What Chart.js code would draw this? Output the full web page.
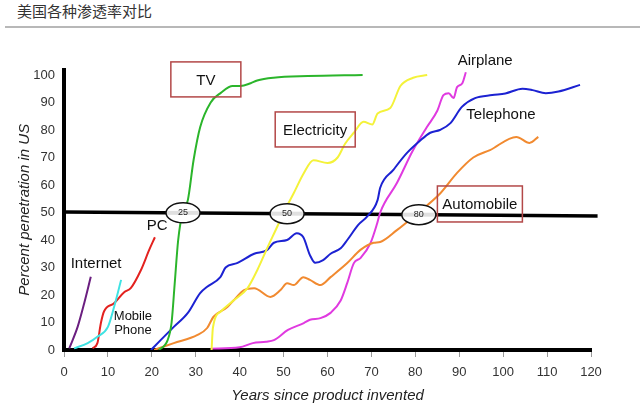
<!DOCTYPE html>
<html lang="zh">
<head>
<meta charset="utf-8">
<script src="https://cdn.jsdelivr.net/npm/chart.js"></script>
<style>
  body { margin: 0; background: #fff; }
  .wrap { position: relative; width: 640px; height: 412px; overflow: hidden; }
  .title { position: absolute; left: 17px; top: 2px; font: 15px/18px "Noto Sans CJK SC", sans-serif; color: #333; }
  .rule { position: absolute; left: 5px; right: 0; top: 26px; border-top: 2px solid #b8b8b8; }
  canvas { position: absolute; left: 0; top: 0; }
</style>
</head>
<body>
<div class="wrap">
  <div class="title">美国各种渗透率对比</div>
  <div class="rule"></div>
  <canvas id="penetration" width="640" height="412"></canvas>
</div>

<script>
// years since invention / percent penetration
const internetYears = [1.2, 3.1, 4.6, 6.1];
const internetValues = [0.6, 8.4, 17, 26.6];

const mobileYears = [2.3, 5.4, 7.6, 10, 11.4, 13];
const mobileValues = [0.6, 2.5, 4.8, 8.4, 15.6, 25.5];

const pcYears = [6.5, 7.6, 8.4, 9.1, 11.4, 13.7, 15.2, 17.5, 19.4, 20.7];
const pcValues = [0.6, 2.5, 9.8, 14, 17, 21, 22.5, 29, 36.4, 41];

const tvYears = [21.6, 23.6, 24.5, 25.2, 26, 27, 28.2, 29.5, 31, 33.4, 35.7, 38.4, 40.2, 42.5, 44, 47.7, 55.5, 68];
const tvValues = [0, 3.6, 10, 24, 40, 50, 54.5, 69, 81, 90, 93.5, 96, 96, 97, 98, 99, 99.6, 100];

const electricityYears = [33.6, 33.9, 35.7, 38.6, 41.8, 44, 46.4, 48.6, 50, 52.3, 54.5, 56.8, 60, 62.3, 64, 66, 68.2, 70.2, 71.4, 74.3, 76.6, 79.5, 82.7];
const electricityValues = [0, 8, 14, 18, 22.5, 29, 37.5, 45, 50, 57, 64, 69, 68, 70, 75, 79, 83, 82, 86, 88, 96, 99, 100];

const telephoneYears = [19.8, 22, 25, 28.2, 31, 32.6, 35.6, 36.8, 39.4, 43.3, 46.3, 47.8, 50.8, 53, 54.5, 56, 57.2, 59, 60.7, 63, 64.5, 67, 69, 71.4, 72, 75, 78, 81, 83.4, 85.6, 88, 90.6, 93.6, 97.5, 100.5, 104.4, 106.7, 109.7, 112.6, 117.5];
const telephoneValues = [0, 3.6, 8.4, 13.5, 20.7, 23, 26.5, 30, 31.6, 35, 36.4, 39, 40, 42.5, 41, 34.5, 31.7, 32.7, 35, 37, 40, 45.5, 48.5, 54.5, 59, 65.5, 71.5, 76, 79, 80, 82.5, 88.4, 91.6, 92.7, 93.3, 95, 94.5, 93.4, 94, 96.4];

const automobileYears = [20.5, 25, 30.4, 32.6, 34, 37.2, 38.6, 41, 43.3, 47, 49.3, 50.8, 52.3, 54.5, 56, 58.4, 60.7, 64.5, 67.5, 70.5, 72, 75.8, 79.5, 85.7, 89.5, 93.2, 97, 103, 106, 108];
const automobileValues = [0, 2.5, 5.5, 8, 12, 15.6, 18, 21.8, 22.5, 19.3, 21.8, 24.3, 23.6, 26.5, 25.5, 23.6, 26.5, 31.6, 36.4, 39, 39.3, 43.6, 48.4, 57, 64.4, 70, 72.7, 77.5, 75.3, 77.5];

const airplaneYears = [33.4, 40, 43, 46, 47.8, 51, 54.6, 56, 58.4, 60.7, 63, 64.5, 66, 67.5, 69.8, 71.3, 72, 75.8, 79.5, 82.6, 85, 86.4, 87.6, 88.7, 89.5, 90.7, 91.5];
const airplaneValues = [0.5, 1, 2.5, 3, 3.6, 7.3, 9.8, 11, 11.6, 13.5, 18, 24.4, 31.6, 33.4, 38.9, 46, 50, 60.7, 72.7, 81, 87, 92.7, 93.4, 91.6, 95.6, 97, 101];

// the hand-drawn 50% reference line
const halfYears = [0, 121.5];
const halfValues = [50.2, 48.7];

// years to reach 50%
const halfMarks = ['25', '50', '80'];
const halfMarkYears = [27.1, 50.8, 80.8];

const FONT = '"Liberation Sans", Arial, sans-serif';

function pts(xs, ys) {
  return xs.map((x, i) => ({ x: x, y: ys[i] }));
}

function curve(label, xs, ys, color) {
  return {
    label: label,
    data: pts(xs, ys),
    borderColor: color,
    borderWidth: 2,
    pointRadius: 0,
    cubicInterpolationMode: 'monotone',
    fill: false
  };
}

// labels and framed labels, placed in data units
const boxNotes = [
  { text: 'TV', x: 32.3, y: 98.4, w: 70, h: 35 },
  { text: 'Electricity', x: 57.2, y: 80.2, w: 80, h: 35 },
  { text: 'Automobile', x: 94.7, y: 53.1, w: 85, h: 36 }
];
const textNotes = [
  { lines: ['Airplane'], x: 95.9, y: 105.1, size: 15 },
  { lines: ['Telephone'], x: 99.5, y: 85.5, size: 15 },
  { lines: ['Internet'], x: 7.3, y: 31.3, size: 15 },
  { lines: ['PC'], x: 21.2, y: 45.1, size: 15 },
  { lines: ['Mobile', 'Phone'], x: 15.7, y: 9.8, size: 13 }
];

const notesPlugin = {
  id: 'notes',
  afterDatasetsDraw(chart) {
    const ctx = chart.ctx;
    const xs = chart.scales.x, ys = chart.scales.y;
    ctx.save();
    ctx.textAlign = 'center';
    ctx.textBaseline = 'middle';

    // ellipses on the 50% line
    halfMarks.forEach((t, i) => {
      const yr = halfMarkYears[i];
      const v = halfValues[0] + (halfValues[1] - halfValues[0]) * (yr - halfYears[0]) / (halfYears[1] - halfYears[0]);
      const cx = xs.getPixelForValue(yr), cy = ys.getPixelForValue(v);
      ctx.beginPath();
      ctx.ellipse(cx, cy, 17, 10, 0, 0, Math.PI * 2);
      ctx.fillStyle = '#fff';
      ctx.fill();
      ctx.fillStyle = 'rgba(0,0,0,0.12)';
      ctx.fillRect(cx - 16, cy - 2, 32, 4);
      ctx.lineWidth = 1.5;
      ctx.strokeStyle = '#111';
      ctx.stroke();
      ctx.fillStyle = '#222';
      ctx.font = '9px ' + FONT;
      ctx.fillText(t, cx, cy);
    });

    // framed labels
    boxNotes.forEach(b => {
      const cx = xs.getPixelForValue(b.x), cy = ys.getPixelForValue(b.y);
      ctx.lineWidth = 1.5;
      ctx.strokeStyle = '#b34848';
      ctx.strokeRect(cx - b.w / 2, cy - b.h / 2, b.w, b.h);
      ctx.fillStyle = '#111';
      ctx.font = '15px ' + FONT;
      ctx.fillText(b.text, cx, cy + 1);
    });

    // plain labels
    textNotes.forEach(n => {
      const cx = xs.getPixelForValue(n.x), cy = ys.getPixelForValue(n.y);
      const lh = n.size + 1;
      ctx.fillStyle = '#111';
      ctx.font = n.size + 'px ' + FONT;
      n.lines.forEach((line, i) => {
        ctx.fillText(line, cx, cy + (i - (n.lines.length - 1) / 2) * lh);
      });
    });
    ctx.restore();
  }
};

new Chart(document.getElementById('penetration'), {
  type: 'line',
  data: {
    datasets: [
      curve('Internet', internetYears, internetValues, '#6b1f80'),
      curve('Mobile Phone', mobileYears, mobileValues, '#3fe3e3'),
      curve('PC', pcYears, pcValues, '#e3221f'),
      curve('TV', tvYears, tvValues, '#2bb52b'),
      curve('Electricity', electricityYears, electricityValues, '#f4f23a'),
      curve('Telephone', telephoneYears, telephoneValues, '#1c22d2'),
      curve('Automobile', automobileYears, automobileValues, '#f18a30'),
      curve('Airplane', airplaneYears, airplaneValues, '#e03ae0'),
      {
        label: '50%',
        data: pts(halfYears, halfValues),
        borderColor: '#000',
        borderWidth: 3.5,
        pointRadius: 0,
        clip: false
      }
    ]
  },
  options: {
    responsive: false,
    animation: false,
    layout: { padding: { top: 69.5, right: 49, left: 0, bottom: 0 } },
    plugins: {
      legend: { display: false },
      tooltip: { enabled: false }
    },
    scales: {
      x: {
        type: 'linear',
        min: 0,
        max: 120,
        ticks: { stepSize: 10, color: '#333', font: { family: FONT, size: 13 }, padding: 8, maxRotation: 0 },
        grid: { display: true, drawOnChartArea: false, drawTicks: true, tickLength: 7, color: '#999' },
        border: { color: '#000', width: 4 },
        title: {
          display: true,
          text: 'Years since product invented',
          color: '#222',
          font: { family: FONT, size: 15, style: 'italic' },
          padding: { top: 0, bottom: 7 }
        },
        afterFit: s => { s.height = 62; }
      },
      y: {
        min: 0,
        max: 102,
        ticks: { stepSize: 10, includeBounds: false, color: '#333', font: { family: FONT, size: 13 }, padding: 9 },
        grid: { display: false, drawTicks: false },
        border: { color: '#000', width: 4 },
        title: {
          display: true,
          text: 'Percent penetration in US',
          color: '#222',
          font: { family: FONT, size: 15, style: 'italic' },
          padding: { top: 16, bottom: 0 }
        },
        afterFit: s => { s.width = 64; }
      }
    }
  },
  plugins: [notesPlugin]
});
</script>
</body>
</html>
